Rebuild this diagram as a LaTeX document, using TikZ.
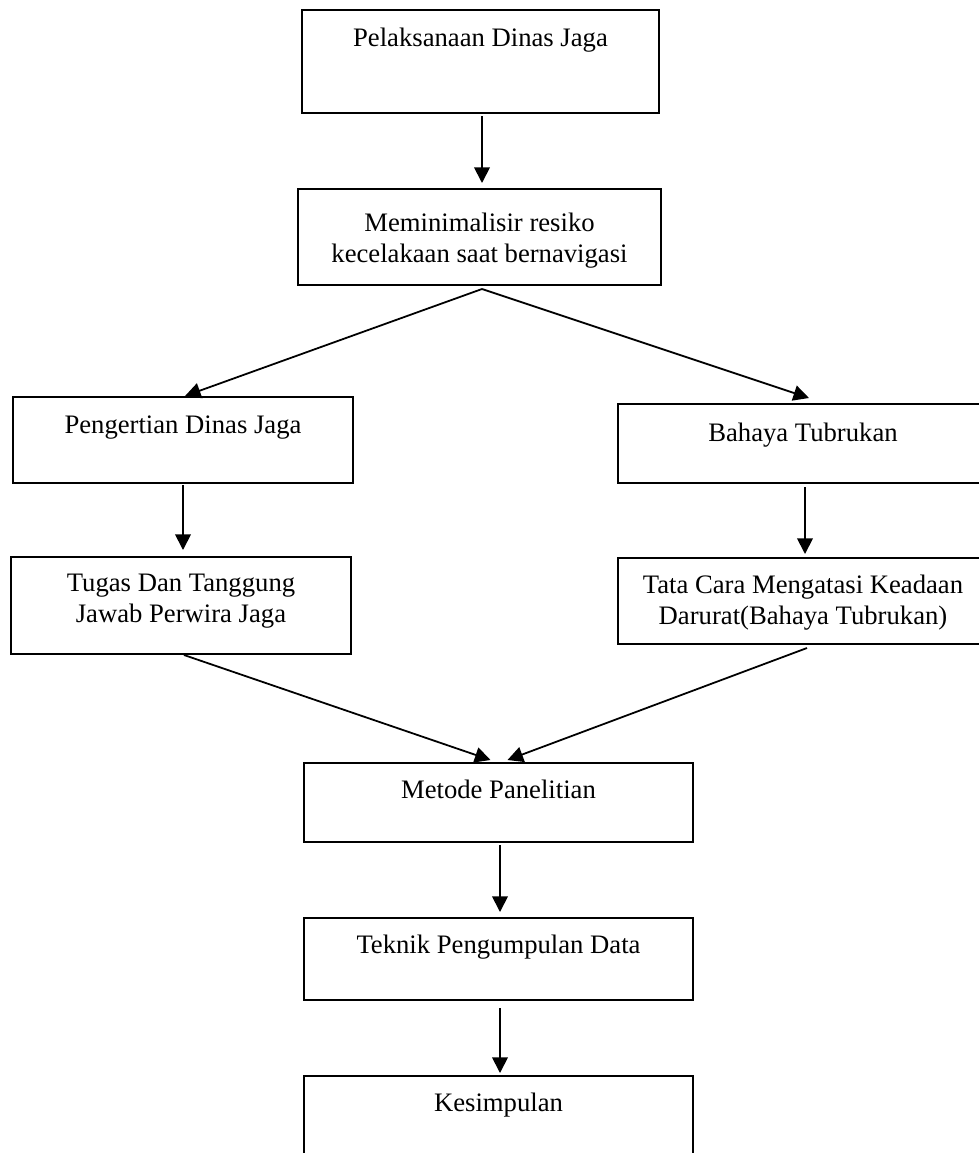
\documentclass[tikz,border=0pt]{standalone}
\usepackage{fontspec}
\setmainfont{Liberation Serif}
\usetikzlibrary{arrows.meta, calc}
\newlength\pxl
\setlength\pxl{0.45pt}
\newcommand{\isi}[4]{\parbox[c][#2\pxl][t]{#1\pxl}{\centering\fontsize{12pt}{14.2pt}\selectfont\rule{0pt}{#3\pxl}#4}}

\begin{document}
\begin{tikzpicture}[x=0.45pt, y=-0.45pt, % satuan = piksel gambar
  kotak/.style={draw, line width=0.9pt, inner sep=0pt, anchor=north west},
  panah/.style={-{Triangle[length=7pt,width=7pt]}, line width=0.8pt}]
\useasboundingbox (0,0) rectangle (979,1153);
\clip (0,0) rectangle (979,1153);

\node[kotak] (pelaksanaan) at (301,9) {\isi{357}{103}{36}{Pelaksanaan Dinas Jaga}};
\node[kotak] (minimalisir) at (297,188) {\isi{363}{96}{42}{Meminimalisir resiko\\kecelakaan saat bernavigasi}};
\node[kotak] (pengertian) at (12,396) {\isi{340}{86}{36}{Pengertian Dinas Jaga}};
\node[kotak] (bahaya) at (617,403) {\isi{370}{79}{37}{Bahaya Tubrukan}};
\node[kotak] (tugas) at (10,556) {\isi{340}{97}{34}{Tugas Dan Tanggung\\Jawab Perwira Jaga}};
\node[kotak] (tatacara) at (617,557) {\isi{370}{86}{35}{Tata Cara Mengatasi Keadaan\\Darurat(Bahaya Tubrukan)}};
\node[kotak] (metode) at (303,762) {\isi{389}{79}{35}{Metode Panelitian}};
\node[kotak] (teknik) at (303,917) {\isi{389}{82}{35}{Teknik Pengumpulan Data}};
\node[kotak] (kesimpulan) at (303,1075) {\isi{389}{130}{35}{Kesimpulan}};

\draw[panah] ($(pelaksanaan.south)+(1.5,2)$) -- ($(minimalisir.north)+(2.5,-5)$);
\coordinate (cabang) at ($(minimalisir.south)+(2.5,3)$);
\draw[panah] (cabang) -- ($(pengertian.north)+(2,0)$);
\draw[panah] (cabang) -- ($(bahaya.north)+(6,-5)$);
\draw[panah] ($(pengertian.south)+(0,1)$) -- ($(tugas.north)+(2,-6)$);
\draw[panah] ($(bahaya.south)+(2,3)$) -- ($(tatacara.north)+(2,-3)$);
\draw[panah] ($(tugas.south)+(3,0)$) -- ($(metode.north)+(-8,-2)$);
\draw[panah] ($(tatacara.south)+(4,3)$) -- ($(metode.north)+(9,-2)$);
\draw[panah] ($(metode.south)+(1.5,2)$) -- ($(teknik.north)+(1.5,-5)$);
\draw[panah] ($(teknik.south)+(1.5,7)$) -- ($(kesimpulan.north)+(1.5,-2)$);

\end{tikzpicture}
\end{document}
